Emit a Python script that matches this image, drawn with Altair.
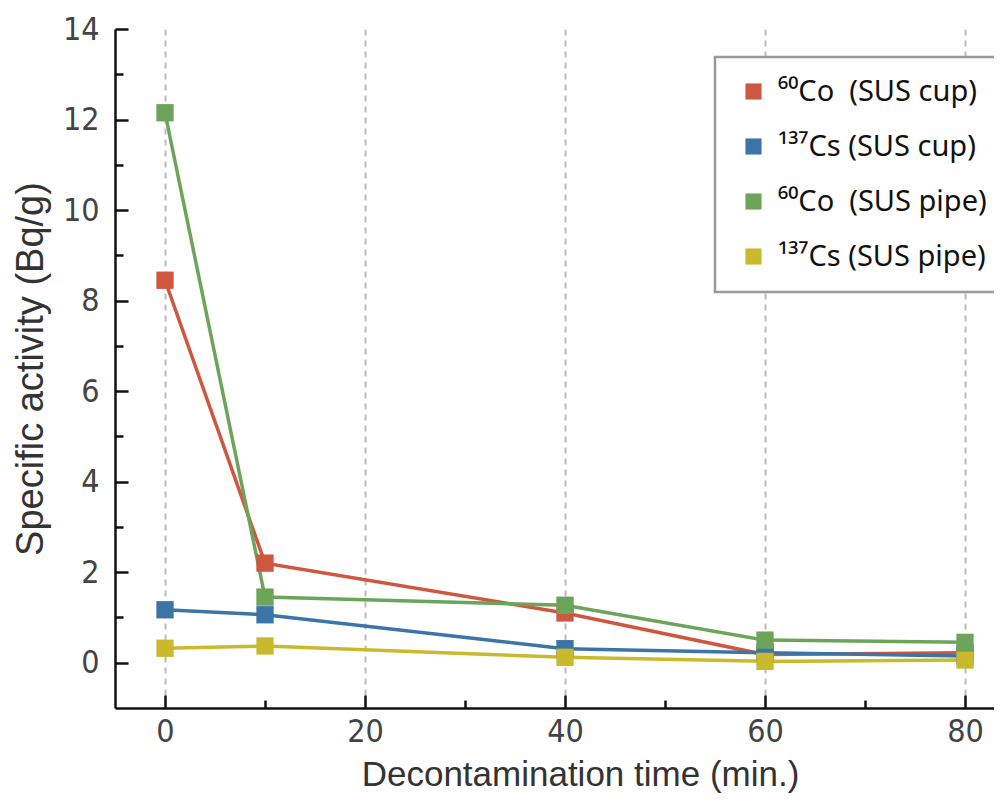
import altair as alt
import pandas as pd

times = [0, 10, 40, 60, 80]
series_names = ["⁶⁰Co\u00a0\u00a0(SUS cup)", "¹³⁷Cs (SUS cup)", "⁶⁰Co\u00a0\u00a0(SUS pipe)", "¹³⁷Cs (SUS pipe)"]
co_cup = [8.45, 2.2, 1.1, 0.18, 0.22]
cs_cup = [1.17, 1.06, 0.31, 0.22, 0.15]
co_pipe = [12.15, 1.45, 1.27, 0.5, 0.45]
cs_pipe = [0.32, 0.37, 0.12, 0.03, 0.06]
colors = ["#d0573f", "#3a75a6", "#6ca55a", "#c9ba2d"]

x_major = [0, 20, 40, 60, 80]
x_ticks = [0, 10, 20, 30, 40, 50, 60, 70, 80]
y_major = [0, 2, 4, 6, 8, 10, 12, 14]
y_ticks = list(range(0, 15))

rows = []
for name, vals in zip(series_names, [co_cup, cs_cup, co_pipe, cs_pipe]):
    for t, v in zip(times, vals):
        rows.append({"series": name, "time": t, "value": v})
df = pd.DataFrame(rows)

W, H = 879, 679
tick_font = "Liberation Sans Narrow, DejaVu Sans Condensed, sans-serif"
title_font = "Liberation Sans, Arial, sans-serif"
legend_font = "Noto Sans, DejaVu Sans, sans-serif"

xscale = alt.Scale(domain=[-5, 82.9], nice=False, zero=False)
yscale = alt.Scale(domain=[-1, 14], nice=False, zero=False)
cscale = alt.Scale(domain=series_names, range=colors)

legend = alt.Legend(
    title=None, orient="none", legendX=600, legendY=28,
    symbolType="square", symbolSize=260, symbolStrokeWidth=0, symbolOffset=4,
    labelFont=legend_font, labelFontSize=29, labelColor="#111111", labelOffset=10,
    labelLimit=400, rowPadding=25, padding=20,
    strokeColor="#999999", fillColor="white")

lines = alt.Chart(df).mark_line(strokeWidth=3.5).encode(
    x=alt.X("time:Q", scale=xscale, axis=alt.Axis(
        orient="bottom", values=x_major, title="Decontamination time (min.)",
        grid=True, gridDash=[6, 5], gridColor="#bbbbbb", gridWidth=2,
        ticks=False, domain=True, domainColor="#111111", domainWidth=2.5,
        labelFont=tick_font, labelFontSize=32, labelColor="#444444", labelPadding=8,
        titleFont=title_font, titleFontSize=35, titleFontWeight="normal", titleColor="#333333",
        titlePadding=10, titleX=465)),
    y=alt.Y("value:Q", scale=yscale, axis=alt.Axis(
        orient="left", values=y_major, title="Specific activity (Bq/g)",
        grid=False, ticks=False, domain=True, domainColor="#111111", domainWidth=2.5,
        labelFont=tick_font, labelFontSize=32, labelColor="#444444", labelPadding=16,
        titleFont=title_font, titleFontSize=38, titleFontWeight="normal", titleColor="#333333",
        titlePadding=12)),
    color=alt.Color("series:N", scale=cscale, legend=legend),
    detail="series:N",
)

points = alt.Chart(df).mark_point(shape="square", filled=True, size=300, opacity=1).encode(
    x=alt.X("time:Q", scale=xscale, axis=alt.Axis(
        orient="top", offset=-H, values=x_ticks, labels=False, title=None, grid=False,
        domain=False, tickColor="#111111", tickWidth=2.5,
        tickSize={"condition": {"test": "datum.value % 20 === 0", "value": 13}, "value": 8})),
    y=alt.Y("value:Q", scale=yscale, axis=alt.Axis(
        orient="right", offset=-W, values=y_ticks, labels=False, title=None, grid=False,
        domain=False, tickColor="#111111", tickWidth=2.5,
        tickSize={"condition": {"test": "datum.value % 2 === 0", "value": 13}, "value": 8})),
    color=alt.Color("series:N", scale=cscale, legend=legend),
)

chart = alt.layer(lines, points).resolve_axis(x="independent", y="independent").properties(
    width=W, height=H,
    padding={"left": 107, "top": 21, "right": 0, "bottom": 85},
    autosize=alt.AutoSizeParams(type="none"),
).configure_view(stroke=None).configure_legend(strokeWidth=2.5)

chart.save("out.html", embed_options={"renderer": "svg", "actions": False})
